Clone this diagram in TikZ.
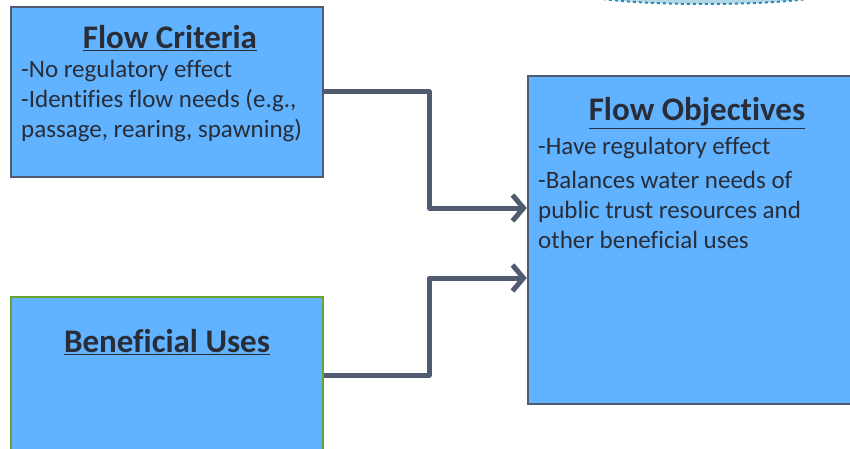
\documentclass[tikz,border=0pt]{standalone}
\usepackage{fontspec}
\setmainfont[Ligatures={NoCommon}]{Carlito}
\usetikzlibrary{positioning,arrows.meta}

\definecolor{boxblue}{RGB}{97,178,255}
\definecolor{slate}{RGB}{80,91,112}
\definecolor{leafgreen}{RGB}{106,162,47}
\definecolor{inktext}{RGB}{40,45,56}
\definecolor{poolblue}{RGB}{40,140,185}

\tikzset{
  flowbox/.style={draw=slate, line width=2.5pt, fill=boxblue, inner sep=0pt},
  usebox/.style={flowbox, draw=leafgreen},
  boxtitle/.style={font=\fontsize{33}{36}\selectfont\bfseries, text=inktext, inner sep=0pt},
  boxtext/.style={font=\fontsize{25}{30}\selectfont, text=inktext, align=left, inner sep=0pt},
  link/.style={draw=slate, line width=5pt, line join=round,
    -{Straight Barb[length=11pt, width=26pt, line width=5pt]}}
}

\begin{document}
\begin{tikzpicture}[x=1pt, y=-1pt]
  \clip (0,0) rectangle (850,449);
  \fill[white] (0,0) rectangle (850,449);

  % cut-off shape at the top
  \draw[poolblue, fill=poolblue!35, dashed, line width=2pt] (705,-9) ellipse [x radius=130pt, y radius=13pt];

  % boxes
  \node[flowbox, minimum width=312pt, minimum height=170pt] (crit) at (167,92) {};
  \node[usebox, minimum width=312pt, minimum height=156pt] (uses) at (167,375) {};
  \node[flowbox, minimum width=342pt, minimum height=328pt] (obj) at (699,240) {};

  % titles and texts
  \node[boxtitle] (crittitle) at (170,38) {\underline{Flow Criteria}};
  \node[boxtext, anchor=north west] (crittext) at (21,60)
    {-No regulatory effect\\-Identifies flow needs (e.g.,\\passage, rearing, spawning)};

  \node[boxtitle] (usestitle) at (167,342) {\underline{Beneficial Uses}};

  \node[boxtitle] (objtitle) at (697,113) {\underline{Flow Objectives}};
  \node[boxtext, anchor=north west] (objtext1) at (538,137) {-Have regulatory effect};
  \node[boxtext, anchor=north west] (objtext2) at (538,171)
    {-Balances water needs of\\public trust resources and\\other beneficial uses};

  % connectors
  \draw[link] (crit.east) -- ++(105pt,0) |- ([yshift=32pt]obj.west);
  \draw[link] (uses.east) -- ++(105pt,0) |- ([yshift=-38pt]obj.west);
\end{tikzpicture}
\end{document}
